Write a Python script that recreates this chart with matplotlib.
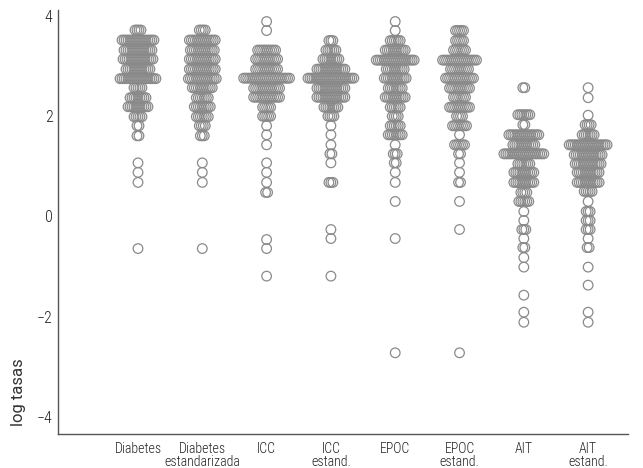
import numpy as np
import matplotlib
matplotlib.use('Agg')
import matplotlib.pyplot as plt

plt.rcParams['font.family'] = ['Roboto Condensed', 'DejaVu Sans']

categories = ['Diabetes', 'Diabetes\nestandarizada', 'ICC', 'ICC\nestand.',
              'EPOC', 'EPOC\nestand.', 'AIT', 'AIT\nestand.']

# each category: row values (log tasas) and number of points in that row
diab_vals = [3.72, 3.52, 3.32, 3.14, 2.94, 2.75, 2.57, 2.37, 2.19, 1.99, 1.81, 1.61, 1.07, 0.88, 0.68, -0.64]
diab_cnt = [4, 17, 15, 16, 13, 19, 5, 9, 11, 5, 2, 2, 1, 1, 1, 1]

diabe_vals = [3.72, 3.52, 3.32, 3.14, 2.94, 2.75, 2.57, 2.37, 2.19, 1.99, 1.81, 1.61, 1.07, 0.88, 0.68, -0.64]
diabe_cnt = [4, 14, 13, 14, 14, 15, 11, 7, 9, 7, 4, 3, 1, 1, 1, 1]

icc_vals = [3.89, 3.71, 3.32, 3.14, 2.94, 2.76, 2.56, 2.38, 2.18, 2.0, 1.81, 1.63, 1.43,
            1.07, 0.88, 0.68, 0.48, -0.46, -0.64, -1.19]
icc_cnt = [1, 1, 10, 12, 12, 24, 14, 14, 5, 5, 1, 1, 1, 1, 1, 1, 2, 1, 1, 1]

icce_vals = [3.51, 3.32, 3.14, 2.94, 2.76, 2.56, 2.38, 2.18, 2.0, 1.81, 1.63, 1.43, 1.25,
             1.07, 0.68, -0.26, -0.44, -1.19]
icce_cnt = [3, 6, 9, 15, 24, 15, 15, 8, 4, 1, 1, 1, 2, 1, 3, 1, 1, 1]

epoc_vals = [3.89, 3.71, 3.51, 3.32, 3.12, 2.94, 2.76, 2.56, 2.38, 2.18, 2.0, 1.81, 1.63,
             1.43, 1.25, 1.07, 0.88, 0.68, 0.30, -0.44, -2.72]
epoc_cnt = [1, 1, 6, 11, 20, 10, 12, 8, 11, 6, 4, 6, 8, 1, 3, 2, 1, 1, 1, 1, 1]

epoce_vals = [3.71, 3.51, 3.32, 3.12, 2.94, 2.76, 2.56, 2.38, 2.18, 2.0, 1.81, 1.63, 1.43,
              1.25, 1.07, 0.88, 0.68, 0.30, -0.26, -2.72]
epoce_cnt = [5, 5, 7, 18, 10, 15, 11, 7, 11, 4, 8, 1, 6, 2, 1, 1, 2, 1, 1, 1]

ait_vals = [2.57, 2.03, 1.83, 1.63, 1.43, 1.25, 1.05, 0.88, 0.68, 0.48, 0.30, 0.10, -0.08,
            -0.26, -0.44, -0.62, -0.82, -1.01, -1.57, -1.91, -2.11]
ait_cnt = [2, 7, 2, 16, 12, 21, 7, 11, 11, 4, 6, 1, 1, 3, 1, 2, 1, 1, 1, 1, 1]

aite_vals = [2.57, 2.37, 2.02, 1.83, 1.63, 1.43, 1.23, 1.05, 0.88, 0.68, 0.50, 0.30, 0.10,
             -0.08, -0.26, -0.44, -0.62, -1.01, -1.37, -1.91, -2.11]
aite_cnt = [1, 1, 1, 4, 7, 20, 15, 14, 12, 12, 5, 1, 3, 3, 3, 1, 2, 1, 1, 1, 1]

yticks = [-4, -2, 0, 2, 4]

series = [(diab_vals, diab_cnt), (diabe_vals, diabe_cnt), (icc_vals, icc_cnt),
          (icce_vals, icce_cnt), (epoc_vals, epoc_cnt), (epoce_vals, epoce_cnt),
          (ait_vals, ait_cnt), (aite_vals, aite_cnt)]

fig = plt.figure(figsize=(6.43, 4.68), dpi=100)
ax = fig.add_axes([58/643, 34/468, 570/643, 424/468])

dx = 0.031  # horizontal step between points of one row
for i, (vals, cnt) in enumerate(series):
    xs = [] ; ys = []
    for v, n in zip(vals, cnt):
        for k in range(n):
            xs.append(i + 1 + (k - (n - 1) / 2) * dx)
            ys.append(v)
    ax.scatter(xs, ys, s=48, facecolors='none', edgecolors='#8a8a8a', linewidths=0.9)

ax.set_xlim(-0.244, 8.62)
ax.set_ylim(-4.34, 4.12)
ax.set_xticks(range(1, 9))
ax.set_xticklabels(categories, fontsize=10, fontweight='light', color='#222222',
                   linespacing=0.92)
ax.set_yticks(yticks)
ax.set_yticklabels(['%d' % t if t >= 0 else '\u2212%d' % -t for t in yticks],
                   fontsize=11.5, fontweight='light', color='#222222')
ax.tick_params(length=0)
ax.tick_params(axis='y', pad=4)
ax.tick_params(axis='x', pad=6)
for s in ['top', 'right']:
    ax.spines[s].set_visible(False)
for s in ['left', 'bottom']:
    ax.spines[s].set_color('#555555')
    ax.spines[s].set_linewidth(1.0)

fig.text(18/643, 1 - 392/468, 'log tasas', rotation=90, ha='center', va='center',
         fontsize=12, color='#333333', family=['Roboto', 'DejaVu Sans'])

fig.savefig('out.png')
